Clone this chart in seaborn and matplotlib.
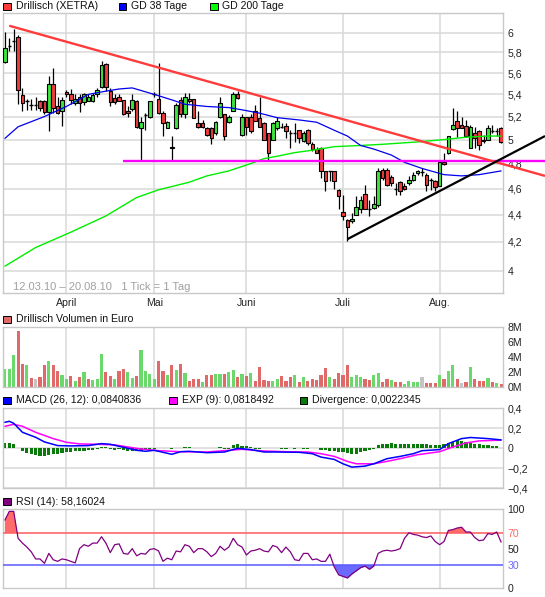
import numpy as np
import matplotlib
matplotlib.use("Agg")
import matplotlib.pyplot as plt
from matplotlib.patches import Rectangle
import seaborn as sns

sns.set_theme(style="white")
plt.rcParams['font.family'] = ['Liberation Sans', 'DejaVu Sans']

# ---------------- data ----------------
month_idx = [14, 34, 55, 77, 99]
month_names = ["April", "Mai", "Juni", "Juli", "Aug."]

opens = [5.71,5.86,5.91,5.95,5.39,5.34,5.30,5.30,5.34,5.34,
         5.24,5.50,5.29,5.25,5.42,5.40,5.32,5.38,5.33,5.34,
         5.34,5.40,5.47,5.69,5.43,5.37,5.38,5.35,5.25,5.27,
         5.34,5.10,5.21,5.20,5.40,5.36,5.23,5.10,4.94,5.10,
         5.35,5.22,5.36,5.36,5.14,5.14,5.10,5.10,5.06,5.20,
         5.22,5.15,5.25,5.40,5.04,5.20,5.20,5.25,5.19,5.14,
         5.06,5.00,5.10,5.11,5.12,5.06,5.06,5.08,4.99,5.08,
         4.96,4.92,4.93,4.74,4.74,4.74,4.59,4.42,4.36,4.35,
         4.40,4.44,4.56,4.44,4.45,4.47,4.75,4.75,4.69,4.60,
         4.65,4.62,4.64,4.67,4.72,4.73,4.71,4.67,4.66,4.62,
         4.81,4.89,5.09,5.16,5.13,5.12,4.93,5.06,5.07,5.00,
         5.00,5.07,5.07,5.10]
highs = [6.01,5.94,6.04,5.97,5.46,5.36,5.36,5.38,5.35,5.35,
         5.57,5.65,5.38,5.38,5.44,5.45,5.40,5.40,5.41,5.40,
         5.41,5.46,5.72,5.70,5.46,5.40,5.40,5.35,5.29,5.40,
         5.35,5.20,5.23,5.34,5.42,5.70,5.25,5.16,5.03,5.32,
         5.38,5.41,5.41,5.36,5.25,5.17,5.11,5.11,5.16,5.38,
         5.22,5.21,5.42,5.43,5.22,5.20,5.22,5.30,5.38,5.15,
         5.06,5.15,5.20,5.14,5.14,5.08,5.14,5.08,5.07,5.09,
         4.98,4.94,4.94,4.74,4.74,4.74,4.60,4.55,4.37,4.41,
         4.54,4.54,4.63,4.51,4.54,4.76,4.76,4.76,4.71,4.64,
         4.66,4.64,4.70,4.73,4.75,4.76,4.72,4.68,4.67,4.82,
         4.89,5.03,5.28,5.25,5.20,5.17,5.13,5.11,5.08,5.04,
         5.13,5.13,5.10,5.11]
lows = [5.70,5.81,5.81,5.31,5.25,5.26,5.26,5.26,5.25,5.22,
        5.07,5.23,5.22,5.12,5.38,5.31,5.30,5.24,5.30,5.34,
        5.33,5.38,5.46,5.43,5.29,5.31,5.34,5.21,5.20,5.25,
        5.10,4.83,5.08,5.19,5.38,5.22,5.03,5.10,4.83,5.09,
        5.20,5.19,5.32,5.19,5.10,5.10,5.03,4.96,5.04,5.19,
        5.00,5.14,5.25,5.36,5.03,5.04,5.06,5.16,5.11,5.00,
        4.83,5.00,5.08,5.10,5.01,4.93,4.98,4.97,4.98,4.95,
        4.90,4.89,4.68,4.58,4.66,4.60,4.44,4.36,4.21,4.34,
        4.40,4.41,4.44,4.39,4.44,4.46,4.67,4.62,4.62,4.55,
        4.55,4.59,4.63,4.66,4.71,4.70,4.58,4.59,4.58,4.62,
        4.79,4.88,5.08,5.02,5.10,5.02,4.93,4.93,4.91,4.97,
        5.00,5.06,5.03,4.97]
closes = [5.84,5.86,5.91,5.44,5.32,5.34,5.30,5.30,5.28,5.24,
          5.50,5.28,5.23,5.35,5.40,5.35,5.36,5.32,5.40,5.38,
          5.39,5.44,5.68,5.47,5.33,5.33,5.34,5.22,5.23,5.35,
          5.11,5.15,5.21,5.34,5.40,5.23,5.14,5.15,4.93,5.30,
          5.22,5.38,5.34,5.19,5.11,5.11,5.04,5.01,5.15,5.32,
          5.03,5.20,5.40,5.37,5.20,5.11,5.07,5.16,5.11,5.00,
          4.89,5.14,5.16,5.11,5.07,5.06,5.06,5.01,5.06,4.97,
          4.92,4.89,4.74,4.66,4.74,4.66,4.54,4.39,4.31,4.37,
          4.46,4.51,4.44,4.44,4.48,4.74,4.68,4.63,4.64,4.60,
          4.58,4.60,4.67,4.71,4.74,4.73,4.63,4.67,4.61,4.81,
          4.80,5.03,5.13,5.10,5.10,5.03,5.11,5.01,4.95,4.99,
          5.10,5.07,5.07,4.98]

ma38_idx = [0,3,9,14,19,23,26,29,34,38,41,46,51,54,58,62,67,71,75,78,81,84,88,91,95,100,104,108,113]
ma38_val = [5.01,5.11,5.20,5.29,5.40,5.43,5.45,5.46,5.40,5.35,5.31,5.29,5.28,5.26,5.23,5.19,5.17,5.15,
            5.08,5.03,4.95,4.92,4.87,4.81,4.76,4.71,4.70,4.71,4.74]
ma200_idx = [0,7,15,23,30,35,42,46,51,56,59,62,66,70,75,81,86,94,100,105,110,113]
ma200_val = [4.03,4.16,4.27,4.39,4.53,4.59,4.65,4.70,4.74,4.80,4.84,4.86,4.89,4.91,4.94,4.95,4.96,
             4.98,5.00,5.02,5.03,5.03]

down_trend = ([1, 123], [6.07, 4.70])
up_trend = ([78, 123], [4.22, 5.03])
support = ([27, 123], [4.82, 4.82])

volume_m = [2.4,2.4,4.3,7.4,3.1,2.9,1.2,1.1,1.4,2.9, 3.5,2.9,2.2,1.6,1.1,1.5,0.8,1.4,2.0,1.1,
            1.0,1.1,4.4,2.0,1.5,1.1,2.2,2.4,2.0,1.2, 1.5,4.9,2.2,1.8,1.1,3.5,2.2,1.6,2.9,2.3,
            3.1,1.9,0.8,1.1,1.1,0.7,1.6,1.6,1.8,1.8, 1.8,2.0,2.3,1.4,1.8,1.5,1.9,0.8,2.7,1.0,
            0.8,0.8,1.1,1.5,0.8,1.4,1.6,0.7,1.4,0.8, 1.1,1.0,1.6,2.5,1.4,1.1,1.9,1.6,2.9,1.4,
            1.6,1.4,1.1,1.0,1.6,1.9,0.7,1.1,1.0,0.7, 0.7,0.4,0.8,0.7,0.7,1.4,0.6,0.6,0.6,1.6,
            1.1,2.2,2.9,1.1,0.6,0.7,2.7,1.1,0.8,0.8, 1.2,0.7,0.6,0.4]
volume_dir = ("gggrrgrxrr" "grrggrgrgr" "gggrrgrrgg" "rggggrrgrg" "rgrrrgrrgg"
              "rggrgrgrrr" "rggrrrgrgr" "rrrrgrrrrg" "ggrrggrrgr" "rggggxrrrg"
              "rggrxrgrrr" "grgr")

macd_idx = [0,1,2,4,7,9,12,15,19,22,24,26,30,32,34,38,40,42,46,50,53,56,59,62,67,70,72,75,77,79,
            82,84,87,90,93,95,99,101,104,106,110,113]
macd_val = [0.26,0.27,0.25,0.16,0.11,0.064,0.027,0.024,0.027,0.047,0.04,0.02,-0.02,-0.03,-0.02,-0.06,
            -0.034,-0.03,-0.044,-0.037,0.0,-0.013,-0.037,-0.037,-0.04,-0.054,-0.088,-0.111,-0.155,-0.188,
            -0.178,-0.155,-0.104,-0.081,-0.054,-0.024,-0.013,0.047,0.097,0.108,0.097,0.084]
exp_idx = [0,2,4,7,11,14,17,21,25,28,31,35,40,46,51,54,59,64,69,72,75,78,80,84,87,90,94,99,102,105,108,113]
exp_val = [0.22,0.24,0.22,0.16,0.097,0.06,0.044,0.04,0.034,0.013,-0.007,-0.024,-0.034,-0.037,-0.02,
           -0.01,-0.027,-0.034,-0.037,-0.054,-0.081,-0.131,-0.155,-0.155,-0.131,-0.104,-0.064,-0.034,
           0.013,0.054,0.074,0.082]
divergence = [0.05,0.05,0.04,0.0,-0.03,-0.05,-0.06,-0.065,-0.075,-0.08,
              -0.065,-0.06,-0.055,-0.047,-0.04,-0.037,-0.03,-0.027,-0.024,-0.02,
              -0.017,-0.007,0.01,0.017,-0.007,-0.013,-0.007,-0.02,-0.027,-0.027,
              -0.024,-0.024,-0.02,-0.013,-0.01,0.007,0.007,0.007,-0.003,0.007,
              0.007,0.013,0.013,0.003,0.007,0.007,0.007,0.007,0.007,0.013,
              -0.007,-0.007,0.03,0.04,0.027,0.02,0.013,-0.007,-0.007,0.0,
              0.007,0.007,0.007,-0.003,-0.003,0.007,-0.003,0.007,-0.003,-0.003,
              0.003,0.0,-0.013,-0.02,-0.027,-0.03,-0.034,-0.04,-0.05,-0.054,
              -0.054,-0.04,-0.027,-0.013,-0.003,0.03,0.04,0.047,0.05,0.047,
              0.04,0.044,0.047,0.047,0.047,0.047,0.04,0.037,0.03,0.037,
              0.047,0.057,0.067,0.081,0.074,0.064,0.054,0.047,0.04,0.037,
              0.03,0.024,0.02,0.007]
rsi = [86,97,97,63,57,52,46,37,37,31.5, 44,36,34,37,36,34,32,50,55,53,
       57,57,65,57,45,55,56,44,43,50, 41,44,43,49,50,47,34,38,36,47,
       46,55,53,45,50,50,46,40,44,53, 48,52,63,55,52,42,47,48,50,47,
       46,54,52,45,52,46,36,35,44,44, 36,37,34,34,43,27,17,15,13,18,
       22,26,28,24,28,44,47,48,47,48, 50,63,70,68,67,65,64,66,59,55,
       59,73,74,76,77,71,71,64,60,61, 69,68,71,58.2]

main_ticks = [4.0, 4.2, 4.4, 4.6, 4.8, 5.0, 5.2, 5.4, 5.6, 5.8, 6.0]

# ---------------- layout ----------------
W, H = 545, 597
fig = plt.figure(figsize=(W / 100, H / 100), dpi=100)
fig.patch.set_facecolor("white")

def box(top, bottom, left=2.8, right=503.3):
    return [left / W, 1 - bottom / H, (right - left) / W, (bottom - top) / H]

ax_main = fig.add_axes(box(13.3, 293.3))
ax_vol = fig.add_axes(box(326.7, 387.3))
ax_macd = fig.add_axes(box(408.3, 488.3))
ax_rsi = fig.add_axes(box(509.0, 588.3))

GRID = "#d9d9d9"
FS = 7.6
n = len(closes)
x = np.arange(n)
xlim = (-0.48, 113.5)

for ax in (ax_main, ax_vol, ax_macd, ax_rsi):
    ax.set_facecolor("white")
    for s in ax.spines.values():
        s.set_color("#c8c8c8")
        s.set_linewidth(1.0)
    ax.set_xlim(*xlim)
    ax.set_xticks(month_idx)
    ax.set_axisbelow(True)
    ax.xaxis.grid(True, color=GRID, lw=1.1)
    ax.yaxis.tick_right()
    ax.tick_params(axis="y", which="both", length=0, pad=3, labelsize=FS,
                   labelright=True, labelleft=False, colors="#222222")
    ax.tick_params(axis="x", length=0, labelsize=FS, colors="#222222")
    ax.set_xlabel("")
    ax.set_ylabel("")

# ---------------- main candles ----------------
ax = ax_main
ax.set_yscale("log")
ax.set_ylim(3.848, 6.20)
ax.set_yticks(main_ticks)
ax.set_yticklabels([f"{t:g}".replace(".", ",") for t in main_ticks])
ax.yaxis.set_minor_locator(matplotlib.ticker.NullLocator())
ax.yaxis.grid(True, color=GRID, lw=1.1)
ax.set_xticklabels(month_names)
ax.tick_params(axis="x", pad=3.5)

o = np.array(opens); c = np.array(closes); hi = np.array(highs); lo = np.array(lows)
up = c > o
dn = c < o
dj = c == o
ax.vlines(x, lo, hi, color="black", lw=0.9, zorder=3)
bw = 0.8
ax.bar(x[up], (c - o)[up], bottom=o[up], width=bw, color="#3ce63c",
       edgecolor="black", linewidth=0.8, zorder=4)
ax.bar(x[dn], (o - c)[dn], bottom=c[dn], width=bw, color="#f03c3c",
       edgecolor="black", linewidth=0.8, zorder=4)
ax.hlines(c[dj], x[dj] - bw / 2, x[dj] + bw / 2, color="black", lw=1.0, zorder=4)

sns.lineplot(x=ma200_idx, y=ma200_val, ax=ax, color="#00ee00", lw=1.0, estimator=None, sort=False, zorder=5)
sns.lineplot(x=ma38_idx, y=ma38_val, ax=ax, color="#0000ee", lw=0.9, estimator=None, sort=False, zorder=5)

ax.plot(*support, color="#ff00ff", lw=1.7, clip_on=False, zorder=6, solid_capstyle="butt")
ax.plot(*down_trend, color="#ff3b3b", lw=1.7, clip_on=False, zorder=7, solid_capstyle="butt")
ax.plot(*up_trend, color="black", lw=1.6, clip_on=False, zorder=7, solid_capstyle="butt")
ax.set_xlabel(""); ax.set_ylabel("")

ax.text(10.4 / (503.3 - 2.8), (293.3 - 286.5) / 280, "12.03.10 \u2013 20.08.10   1 Tick = 1 Tag",
        transform=ax.transAxes, fontsize=8, color="#a0a0a0", ha="left", va="center")

# ---------------- volume ----------------
ax = ax_vol
vcol = {"g": "#6ad86a", "r": "#e06a6a", "x": "#c4c4c4"}
ax.bar(x, np.array(volume_m) * 1e6, width=0.72, color=[vcol[d] for d in volume_dir], linewidth=0)
ax.set_ylim(0, 8e6)
ax.set_yticks([0, 2e6, 4e6, 6e6, 8e6])
ax.set_yticklabels(["0M", "2M", "4M", "6M", "8M"])
ax.tick_params(axis="x", labelbottom=False)

# ---------------- MACD ----------------
ax = ax_macd
ax.yaxis.grid(True, color=GRID, lw=1.1)
ax.set_ylim(-0.4, 0.4)
ax.set_yticks([-0.4, -0.2, 0, 0.2, 0.4])
ax.set_yticklabels(["\u22120,4", "\u22120,2", "0", "0,2", "0,4"])
ax.bar(x, divergence, width=0.72, color="#0a7a0a", linewidth=0, zorder=2)
sns.lineplot(x=exp_idx, y=exp_val, ax=ax, color="#ff00ff", lw=1.1, estimator=None, sort=False, zorder=3)
sns.lineplot(x=macd_idx, y=macd_val, ax=ax, color="#0000ff", lw=1.1, estimator=None, sort=False, zorder=4)
ax.tick_params(axis="x", labelbottom=False)
ax.set_xlabel(""); ax.set_ylabel("")

# ---------------- RSI ----------------
ax = ax_rsi
r = np.array(rsi, dtype=float)
ax.set_ylim(0, 100)
ax.fill_between(x, r, 70, where=r >= 70, interpolate=True, color="#ff6a6a", lw=0, zorder=2)
ax.fill_between(x, r, 30, where=r <= 30, interpolate=True, color="#6a6aff", lw=0, zorder=2)
ax.axhline(70, color="#ff5a5a", lw=1.1, zorder=3)
ax.axhline(30, color="#5a5aff", lw=1.1, zorder=3)
sns.lineplot(x=x, y=r, ax=ax, color="#800080", lw=0.9, estimator=None, sort=False, zorder=4)
ax.set_yticks([0, 30, 50, 70, 100])
ax.set_yticklabels(["0", "30", "50", "70", "100"])
for lab in ax.get_yticklabels():
    if lab.get_text() == "70":
        lab.set_color("#ff6a6a")
    elif lab.get_text() == "30":
        lab.set_color("#6a6aff")
ax.tick_params(axis="x", labelbottom=False)
ax.set_xlabel(""); ax.set_ylabel("")

# ---------------- legends ----------------
def legend_item(xpx, ypx, color, text):
    fig.add_artist(Rectangle((xpx / W, 1 - (ypx + 3.6) / H), 7.2 / W, 7.2 / H,
                             transform=fig.transFigure, facecolor=color,
                             edgecolor="black", lw=0.7))
    fig.text((xpx + 12.2) / W, 1 - ypx / H, text, fontsize=FS, color="#111111",
             ha="left", va="center")

legend_item(3.4, 6.3, "#ff3b3b", "Drillisch (XETRA)")
legend_item(119.0, 6.3, "#0000ff", "GD 38 Tage")
legend_item(210.3, 6.3, "#00ff00", "GD 200 Tage")
legend_item(3.4, 319.3, "#e06a6a", "Drillisch Volumen in Euro")
legend_item(3.4, 400.3, "#0000ff", "MACD (26, 12): 0,0840836")
legend_item(169.3, 400.3, "#ff00ff", "EXP (9): 0,0818492")
legend_item(300.0, 400.3, "#0a7a0a", "Divergence: 0,0022345")
legend_item(3.4, 501.7, "#800080", "RSI (14): 58,16024")

fig.savefig("out.png", dpi=100, facecolor="white")
